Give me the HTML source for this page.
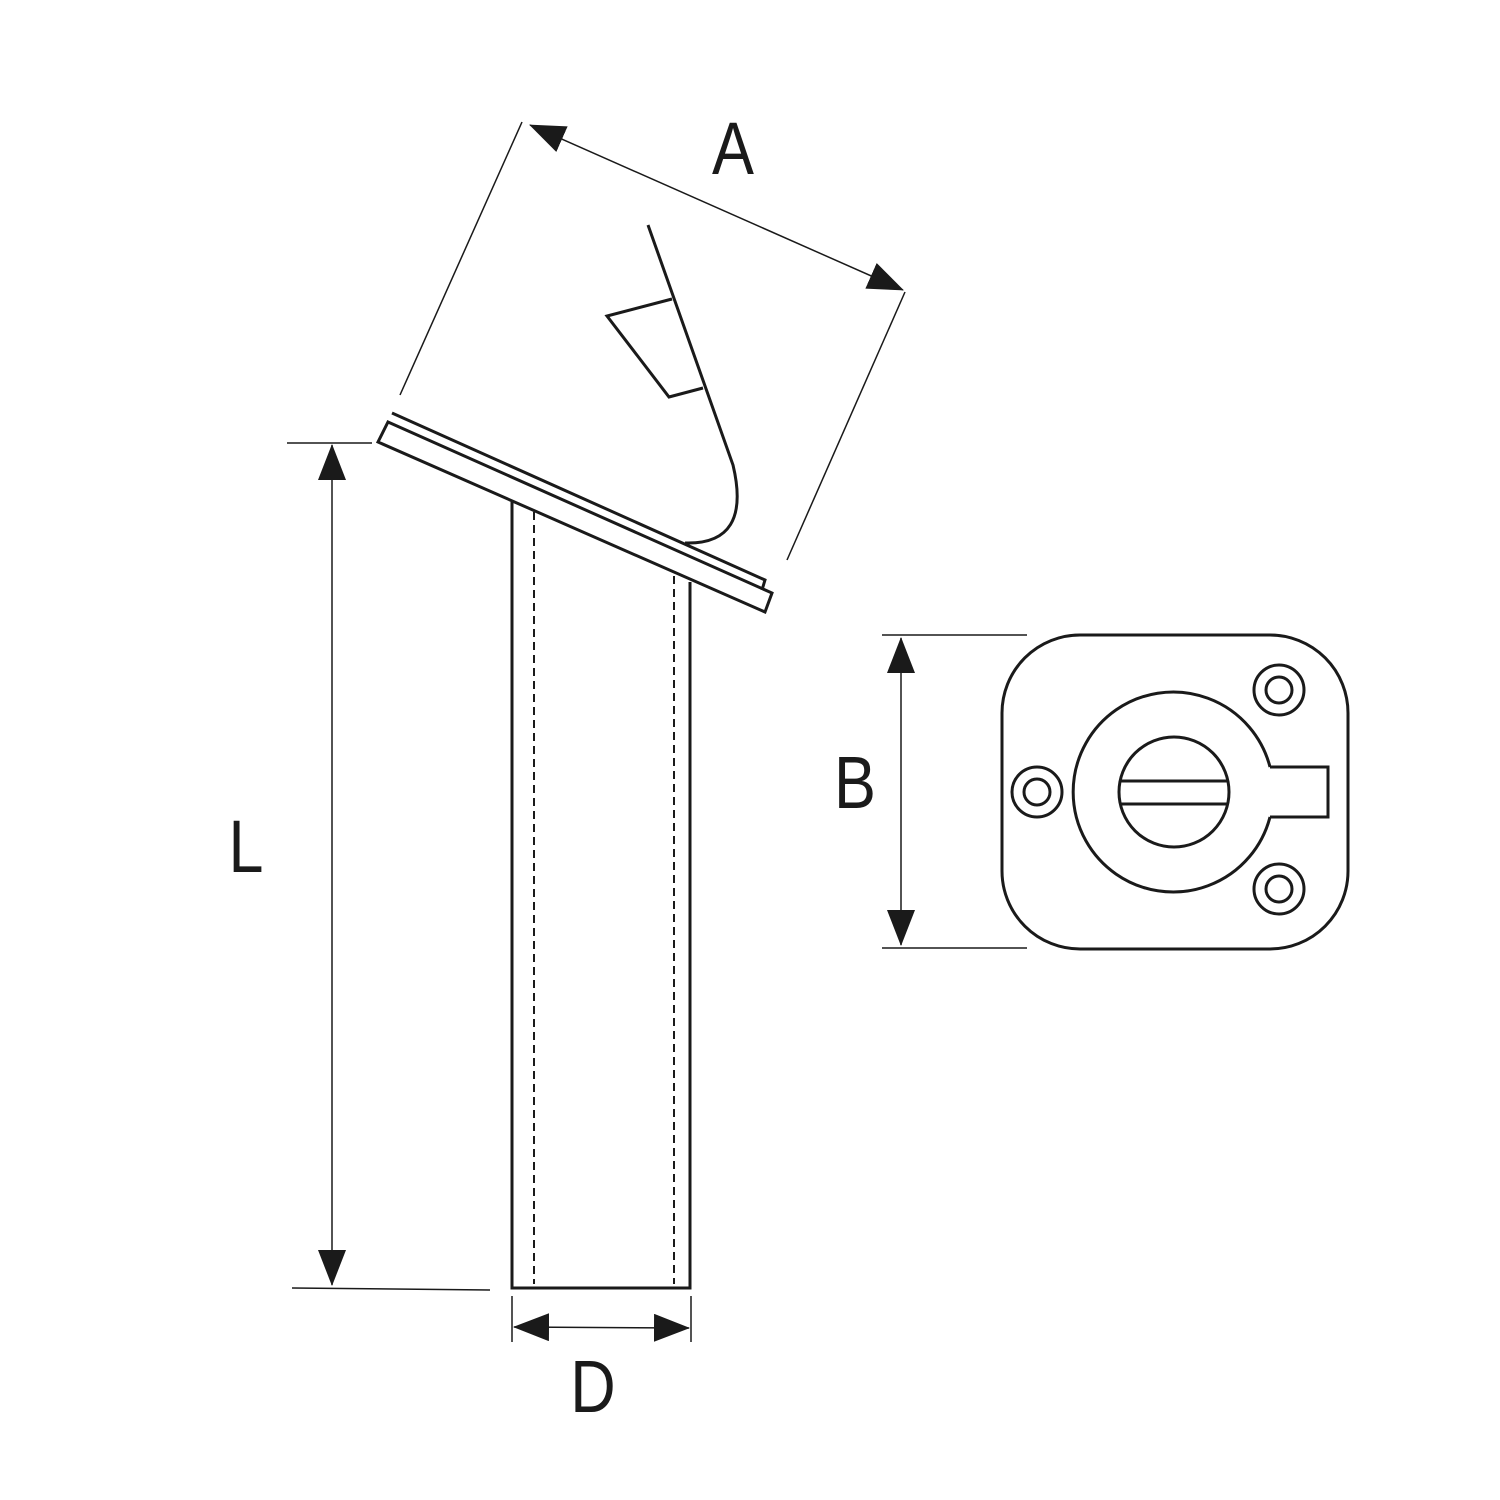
<!DOCTYPE html>
<html><head><style>html,body{margin:0;padding:0;background:#fff}svg{display:block}</style></head>
<body>
<svg width="1500" height="1500" viewBox="0 0 1500 1500" xmlns="http://www.w3.org/2000/svg">
<defs>
<marker id="ah" viewBox="0 0 36 28" refX="35" refY="14" markerWidth="36" markerHeight="28" markerUnits="userSpaceOnUse" orient="auto-start-reverse">
<path d="M0,0 L36,14 L0,28 Z" fill="#1a1a1a"/>
</marker>
</defs>
<g fill="none" stroke="#1a1a1a" stroke-width="3" stroke-linejoin="miter">
<path d="M512,502 L512,1288 L690,1288 L690,582"/>
<line x1="534" y1="512" x2="534" y2="1284" stroke-width="2" stroke-dasharray="8,5"/>
<line x1="674" y1="576" x2="674" y2="1284" stroke-width="2" stroke-dasharray="8,5"/>
<path d="M388,422 L772,593 L765,612 L378,442 Z"/>
<path d="M392,413 L765,580 L762,590"/>
<path d="M648,225 L733,465 Q752,545 685,543"/>
<path d="M672,299 L607,316 L669,397 L703,388"/>
</g>
<g fill="none" stroke="#1a1a1a" stroke-width="1.5">
<line x1="522" y1="122" x2="400" y2="395"/>
<line x1="905" y1="292" x2="787" y2="560"/>
<line x1="530" y1="125" x2="903" y2="290" marker-start="url(#ah)" marker-end="url(#ah)"/>
<line x1="287" y1="443" x2="372" y2="443"/>
<line x1="292" y1="1288" x2="490" y2="1290"/>
<line x1="332" y1="445" x2="332" y2="1285" marker-start="url(#ah)" marker-end="url(#ah)"/>
<line x1="882" y1="635" x2="1027" y2="635"/>
<line x1="882" y1="948" x2="1027" y2="948"/>
<line x1="901" y1="638" x2="901" y2="945" marker-start="url(#ah)" marker-end="url(#ah)"/>
<line x1="512" y1="1296" x2="512" y2="1342"/>
<line x1="691" y1="1296" x2="691" y2="1342"/>
<line x1="514" y1="1327" x2="689" y2="1328" marker-start="url(#ah)" marker-end="url(#ah)"/>
</g>
<g fill="none" stroke="#1a1a1a" stroke-width="3">
<rect x="1002" y="635" width="346" height="314" rx="78" ry="78"/>
<path d="M1270,767 L1328,767 L1328,817 L1270,817"/>
<path d="M1270,767 A100,100 0 1 0 1270,817"/>
<circle cx="1174" cy="792" r="55"/>
<line x1="1120" y1="781" x2="1228" y2="781"/>
<line x1="1120" y1="804" x2="1228" y2="804"/>
<circle cx="1037" cy="792" r="25"/><circle cx="1037" cy="792" r="13"/>
<circle cx="1279" cy="690" r="25"/><circle cx="1279" cy="690" r="13"/>
<circle cx="1279" cy="889" r="25"/><circle cx="1279" cy="889" r="13"/>
</g>
<g font-family="Liberation Sans, sans-serif" font-size="74" fill="#1a1a1a" text-anchor="middle">
<text transform="translate(733,174) scale(0.85,1)">A</text>
<text transform="translate(246,872) scale(0.85,1)">L</text>
<text transform="translate(855,808) scale(0.85,1)">B</text>
<text transform="translate(593,1412) scale(0.85,1)">D</text>
</g>
</svg>
</body></html>
